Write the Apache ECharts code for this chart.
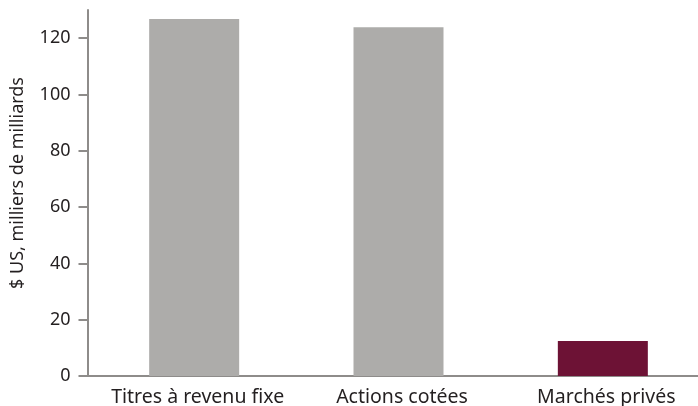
<!DOCTYPE html>
<html>
<head>
<meta charset="utf-8">
<script src="https://cdn.jsdelivr.net/npm/echarts@6/dist/echarts.min.js"></script>
<style>
html,body{margin:0;padding:0;background:#fff;}
#c{width:698px;height:406px;}
</style>
</head>
<body>
<div id="c"></div>
<script>
const categories = ['Titres à revenu fixe', 'Actions cotées', 'Marchés privés'];
const values = [126.8, 123.9, 12.4];
const barColors = ['#adacaa', '#adacaa', '#6d1235'];
const yTicks = [0, 20, 40, 60, 80, 100, 120];
const yMax = 130;
const yName = '$ US, milliers de milliards';

const chart = echarts.init(document.getElementById('c'), null, {renderer: 'canvas'});
const axisColor = '#8e8c8a';
const font = 'Noto Sans';
chart.setOption({
  animation: false,
  grid: {left: 92, width: 613, top: 10, bottom: 30, containLabel: false, outerBoundsMode: 'none'},
  xAxis: {
    type: 'category',
    data: categories,
    axisLine: {lineStyle: {color: axisColor, width: 2}},
    axisTick: {show: false},
    axisLabel: {color: '#231f20', fontFamily: font, fontSize: 19.5, margin: 11, interval: 0, padding: [0, 0, 0, 7]}
  },
  yAxis: {
    type: 'value',
    min: 0,
    max: yMax,
    interval: 20,
    offset: 4.5,
    name: yName,
    nameLocation: 'middle',
    nameGap: 61,
    nameTextStyle: {color: '#231f20', fontFamily: font, fontSize: 18, padding: [0, 0, 0, 20]},
    splitLine: {show: false},
    axisLine: {show: true, lineStyle: {color: axisColor, width: 2}},
    axisTick: {show: true, length: 9, lineStyle: {color: axisColor, width: 2}, customValues: yTicks},
    axisLabel: {color: '#231f20', fontFamily: font, fontSize: 18, margin: 17, customValues: yTicks}
  },
  series: [{
    type: 'bar',
    barWidth: 90,
    data: values.map((v, i) => ({value: v, itemStyle: {color: barColors[i]}}))
  }]
});
const p0 = chart.convertToPixel({gridIndex: 0}, [0, 0]);
const gridRect = chart.getModel().getComponent('grid', 0).coordinateSystem.getRect();
chart.setOption({
  graphic: [{
    type: 'line',
    shape: {x1: gridRect.x - 5, y1: p0[1], x2: gridRect.x + 1, y2: p0[1]},
    style: {stroke: axisColor, lineWidth: 2},
    z: 10
  }]
});
</script>
</body>
</html>
